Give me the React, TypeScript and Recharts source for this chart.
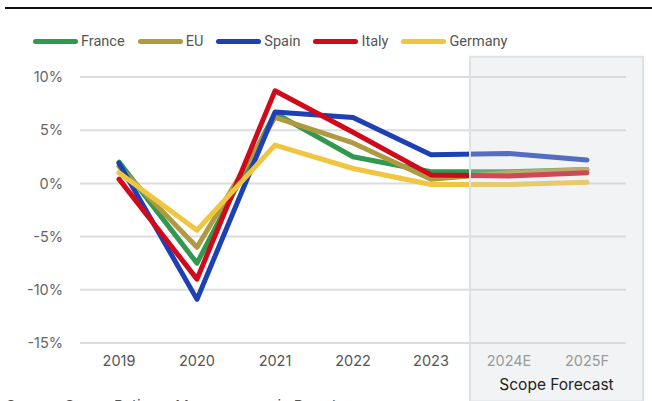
import { ComposedChart, Line, XAxis, YAxis, CartesianGrid, ReferenceArea } from 'recharts';

const years = ['2019', '2020', '2021', '2022', '2023', '2024E', '2025F'];
const france = [2.0, -7.5, 6.6, 2.5, 1.1, 1.1, 1.3];
const eu = [1.6, -6.0, 6.2, 3.8, 0.4, 1.0, 1.3];
const spain = [1.9, -10.9, 6.7, 6.2, 2.7, 2.8, 2.2];
const italy = [0.4, -9.0, 8.7, 4.8, 0.8, 0.7, 1.0];
const germany = [1.0, -4.4, 3.6, 1.4, -0.1, -0.1, 0.1];
const yTicks = [-15, -10, -5, 0, 5, 10];

const series = [
    { key: 'France', values: france, color: '#31994f' },
    { key: 'EU', values: eu, color: '#ae9a40' },
    { key: 'Spain', values: spain, color: '#1e40b5' },
    { key: 'Italy', values: italy, color: '#d00a1a' },
    { key: 'Germany', values: germany, color: '#f0c540' },
];

const data = years.map((year, i) => {
    const row: any = { year };
    series.forEach(s => { row[s.key] = s.values[i]; });
    return row;
});

const LEGEND_FONT = 'Roboto, "Noto Sans", sans-serif';
const FONT = 'Inter, Roboto, sans-serif';

const LegendRow = () => (
    <div style={{ display: 'flex', alignItems: 'center', paddingLeft: 33, fontFamily: LEGEND_FONT, fontSize: 14.5, color: '#555' }}>
        {series.map(s => (
            <div key={s.key} style={{ display: 'flex', alignItems: 'center', marginRight: 13 }}>
                <div style={{ width: 45, height: 5, borderRadius: 3, background: s.color, marginRight: 3 }} />
                <span>{s.key}</span>
            </div>
        ))}
    </div>
);

const XTick = ({ x, y, payload }: any) => {
    const forecast = payload.value.endsWith('E') || payload.value.endsWith('F');
    return (
        <text x={x} y={y} dy="0.71em" textAnchor="middle" fontFamily={FONT} fontSize={14.5} fill={forecast ? '#9a9a9a' : '#555'}>
            {payload.value}
        </text>
    );
};

const ForecastBox = (p: any) => (
    <g>
        <rect x={p.x} y={p.y} width={p.width + 17} height={p.height} fill="#cfd6dd" fillOpacity={0.3} stroke="#dde2e5" strokeWidth={2} />
        <text x={p.x + (p.width + 17) / 2} y={390} textAnchor="middle" fontFamily={FONT} fontSize={15.5} fill="#222">
            Scope Forecast
        </text>
    </g>
);

export default function App() {
    return (
        <div style={{ position: 'absolute', left: 0, top: 0, width: 652, height: 401, overflow: 'hidden', background: '#fff' }}>
            <div style={{ position: 'absolute', left: 5, top: 7, right: 0, height: 1.5, background: '#111' }} />
            <ComposedChart width={652} height={401} data={data} margin={{ top: 77, right: 26, left: 0, bottom: 0 }}>
                <CartesianGrid vertical={false} stroke="#dcdcdc" strokeWidth={2} />
                <XAxis dataKey="year" scale="band" axisLine={false} tickLine={false} tickSize={0} tickMargin={13} height={58} tick={<XTick />} interval={0} />
                <YAxis
                    domain={[-15, 10]}
                    ticks={yTicks}
                    width={80}
                    axisLine={false}
                    tickLine={false}
                    tickSize={0}
                    tickMargin={17}
                    tickFormatter={(v: number) => `${v}%`}
                    tick={{ fontFamily: FONT, fontSize: 14.5, fill: '#666' }}
                />
                {series.map(s => (
                    <Line
                        key={s.key}
                        type="linear"
                        dataKey={s.key}
                        stroke={s.color}
                        strokeWidth={5}
                        dot={false}
                        activeDot={false}
                        strokeLinecap="round"
                        strokeLinejoin="round"
                        isAnimationActive={false}
                    />
                ))}
                <ReferenceArea x1="2024E" x2="2025F" y1={-20.5} y2={11.9} ifOverflow="visible" shape={<ForecastBox />} zIndex={1000} />
            </ComposedChart>
            <div style={{ position: 'absolute', left: 0, top: 33, width: 652 }}>
                <LegendRow />
            </div>
            <div style={{ position: 'absolute', left: 6, top: 396, fontFamily: FONT, fontSize: 15, color: '#555', whiteSpace: 'nowrap' }}>
                Source: Scope Ratings, Macroeconomic Board
            </div>
        </div>
    );
}
